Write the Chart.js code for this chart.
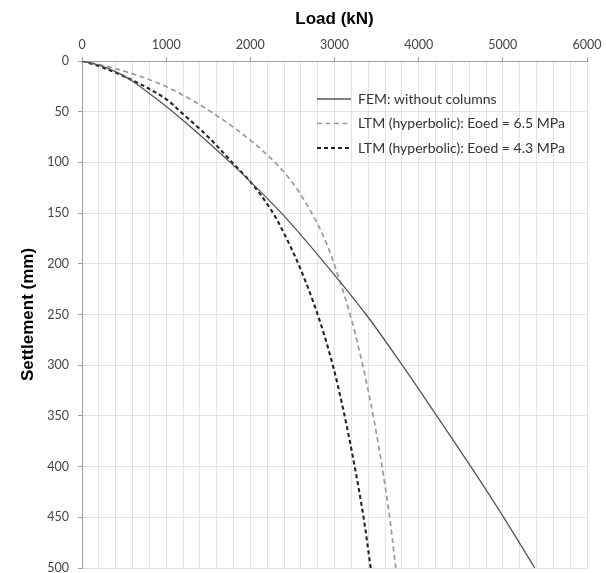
<!DOCTYPE html>
<html>
<head>
<meta charset="utf-8">
<script src="https://cdn.jsdelivr.net/npm/chart.js@4"></script>
<style>
  html, body { margin: 0; padding: 0; background: #fff; }
  #wrap { width: 606px; height: 573px; }
</style>
</head>
<body>
<div id="wrap"><canvas id="chart" width="606" height="573"></canvas></div>
<script>
// settlement values (mm) with the load (kN)
const femSettlement = [0, 4, 10.5, 20, 32, 46, 60, 100, 150, 200, 250, 300, 350, 400, 450, 500];
const femLoad       = [0, 200, 400, 600, 800, 1020, 1220, 1760, 2370, 2890, 3375, 3805, 4215, 4620, 5010, 5380];

const ltm65Settlement = [0, 6, 20, 35, 50, 71, 98, 121, 150, 175, 200, 250, 300, 350, 400, 450, 500];
const ltm65Load       = [0, 330, 850, 1230, 1530, 1890, 2270, 2510, 2730, 2880, 2995, 3185, 3335, 3460, 3565, 3655, 3728];

const ltm43Settlement = [0, 5, 19, 37, 50, 75, 100, 122, 150, 175, 200, 250, 300, 350, 400, 450, 500];
const ltm43Load       = [0, 200, 600, 990, 1170, 1500, 1785, 2030, 2270, 2430, 2570, 2800, 2980, 3120, 3240, 3345, 3430];

const seriesNames = [
  'FEM: without columns',
  'LTM (hyperbolic): Eoed = 6.5 MPa',
  'LTM (hyperbolic): Eoed = 4.3 MPa'
];

const toPoints = (loads, settl) => loads.map((x, i) => ({ x: x, y: settl[i] }));

const tickFont = { family: 'Lato, "Open Sans", sans-serif', size: 12.5 };
const titleFont = { family: '"Liberation Sans", Arial, sans-serif', size: 17, weight: 'bold' };

// legend drawn inside the plot area, like the original
const insideLegend = {
  id: 'insideLegend',
  afterDraw(chart) {
    const ctx = chart.ctx;
    const x0 = 317, y0 = 99, gap = 24.5;
    ctx.save();
    chart.data.datasets.forEach((ds, i) => {
      const y = y0 + i * gap;
      ctx.beginPath();
      ctx.strokeStyle = ds.borderColor;
      ctx.lineWidth = ds.borderWidth;
      ctx.setLineDash(ds.borderDash || []);
      ctx.moveTo(x0, y);
      ctx.lineTo(x0 + 34, y);
      ctx.stroke();
      ctx.setLineDash([]);
      ctx.fillStyle = '#333';
      ctx.font = '14px Lato, "Open Sans", sans-serif';
      ctx.textBaseline = 'middle';
      ctx.fillText(ds.label, x0 + 41, y);
    });
    ctx.restore();
  }
};

const lineStyle = {
  showLine: true,
  pointRadius: 0,
  cubicInterpolationMode: 'monotone'
};

const ctx = document.getElementById('chart').getContext('2d');

const myChart = new Chart(ctx, {
  type: 'scatter',
  data: {
    datasets: [
      Object.assign({
        label: seriesNames[0],
        data: toPoints(femLoad, femSettlement),
        borderColor: '#555555',
        borderWidth: 1.3
      }, lineStyle),
      Object.assign({
        label: seriesNames[1],
        data: toPoints(ltm65Load, ltm65Settlement),
        borderColor: '#9a9a9a',
        borderWidth: 1.7,
        borderDash: [5, 3.5]
      }, lineStyle),
      Object.assign({
        label: seriesNames[2],
        data: toPoints(ltm43Load, ltm43Settlement),
        borderColor: '#222222',
        borderWidth: 2.1,
        borderDash: [4, 3]
      }, lineStyle)
    ]
  },
  options: {
    responsive: false,
    animation: false,
    indexAxis: 'y', // curves are smoothed along the settlement axis
    layout: { padding: { top: 0, right: 19, bottom: 5, left: 0 } },
    plugins: {
      legend: { display: false },
      tooltip: { enabled: false }
    },
    scales: {
      x: {
        type: 'linear',
        position: 'top',
        min: 0,
        max: 6000,
        afterFit: (scale) => {
          scale.height = 61;
          scale.paddingLeft = 0;
          scale.paddingRight = 0;
        },
        ticks: {
          stepSize: 200,
          autoSkip: false,
          maxRotation: 0,
          color: '#444',
          font: tickFont,
          padding: 5,
          callback: (v) => (v % 1000 === 0 ? v : '')
        },
        grid: {
          color: '#e2e2e2',
          lineWidth: 1,
          tickLength: 4,
          tickColor: (c) => (c.tick && c.tick.value % 1000 === 0 ? '#a0a0a0' : 'rgba(0,0,0,0)')
        },
        border: { color: '#a0a0a0', width: 1 },
        title: {
          display: true,
          text: 'Load (kN)',
          color: '#000',
          font: titleFont,
          padding: { top: 9, bottom: 4 }
        }
      },
      y: {
        type: 'linear',
        position: 'left',
        reverse: true,
        min: 0,
        max: 500,
        afterFit: (scale) => {
          scale.width = 82;
          scale.paddingTop = 0;
          scale.paddingBottom = 0;
        },
        ticks: {
          stepSize: 50,
          color: '#444',
          font: tickFont,
          padding: 9
        },
        grid: {
          color: '#e2e2e2',
          lineWidth: 1,
          tickLength: 4,
          tickColor: '#a0a0a0'
        },
        border: { color: '#a0a0a0', width: 1 },
        title: {
          display: true,
          text: 'Settlement (mm)',
          color: '#000',
          font: titleFont,
          padding: { top: 18, bottom: 4 }
        }
      }
    }
  },
  plugins: [insideLegend]
});
</script>
</body>
</html>
